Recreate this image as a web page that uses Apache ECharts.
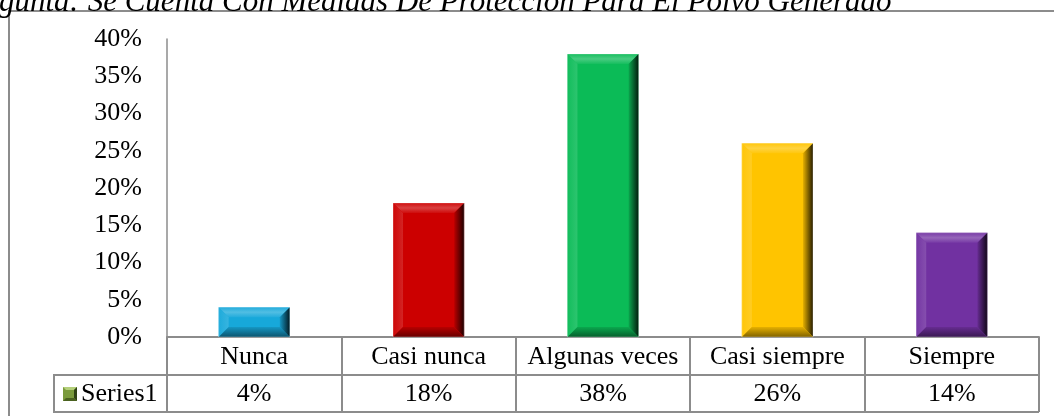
<!DOCTYPE html>
<html>
<head>
<meta charset="utf-8">
<script src="https://cdn.jsdelivr.net/npm/echarts@6/dist/echarts.min.js"></script>
<style>html,body{margin:0;padding:0;background:#fff;}#c{width:1054px;height:416px;}</style>
</head>
<body>
<div id="c"></div>
<script>
const titleText = "gunta: Se Cuenta Con Medidas De Protección Para El Polvo Generado";
const categories = ["Nunca", "Casi nunca", "Algunas veces", "Casi siempre", "Siempre"];
const values = [4, 18, 38, 26, 14];
const seriesName = "Series1";
const yTicks = { min: 0, max: 40, interval: 5 };
const palette = ["#17a8da", "#cc0000", "#0bbb57", "#ffc400", "#7131a1"];

function mix(hex, target, t) {
  const c = parseInt(hex.slice(1), 16);
  const r = (c >> 16) & 255, g = (c >> 8) & 255, b = c & 255;
  const tr = target === 'w' ? 255 : 0;
  const f = v => Math.round(v + (tr - v) * t);
  return 'rgb(' + f(r) + ',' + f(g) + ',' + f(b) + ')';
}

const FONT = '"Liberation Serif","Times New Roman",serif';
const LINE = '#8c8c8c';

const chart = echarts.init(document.getElementById('c'));

function renderBar(params, api) {
  const idx = api.value(0);
  const v = api.value(1);
  const top = api.coord([idx, v]);
  const bot = api.coord([idx, 0]);
  const w = api.size([1, 0])[0] * 0.408;
  const l = top[0] - w / 2, r = top[0] + w / 2, t = top[1], b = bot[1];
  const d = Math.min(10, (b - t) / 2);
  const col = palette[idx % palette.length];
  return {
    type: 'group',
    children: [
      { type: 'rect', shape: { x: l, y: t, width: r - l, height: b - t }, style: { fill: col } },
      { type: 'polygon', shape: { points: [[l, t], [r, t], [r - d, t + d], [l + d, t + d]] },
        style: { fill: new echarts.graphic.LinearGradient(0, 0, 0, 1, [
          { offset: 0, color: mix(col, 'w', 0.05) },
          { offset: 0.5, color: mix(col, 'w', 0.25) },
          { offset: 1, color: mix(col, 'w', 0.05) }]) } },
      { type: 'polygon', shape: { points: [[l, t], [l + d, t + d], [l + d, b - d], [l, b]] },
        style: { fill: new echarts.graphic.LinearGradient(0, 0, 1, 0, [
          { offset: 0, color: mix(col, 'w', 0.03) },
          { offset: 1, color: mix(col, 'w', 0.14) }]) } },
      { type: 'polygon', shape: { points: [[r, t], [r, b], [r - d, b - d], [r - d, t + d]] },
        style: { fill: new echarts.graphic.LinearGradient(0, 0, 1, 0, [
          { offset: 0, color: mix(col, 'b', 0.1) },
          { offset: 1, color: mix(col, 'b', 0.85) }]) } },
      { type: 'polygon', shape: { points: [[l, b], [r, b], [r - d, b - d], [l + d, b - d]] },
        style: { fill: new echarts.graphic.LinearGradient(0, 0, 0, 1, [
          { offset: 0, color: mix(col, 'b', 0.1) },
          { offset: 1, color: mix(col, 'b', 0.5) }]) } },
      { type: 'rect', shape: { x: l, y: t, width: r - l, height: b - t },
        style: { fill: 'none', stroke: 'rgba(255,255,255,0.3)', lineWidth: 1 } }
    ]
  };
}

const option = {
  animation: false,
  backgroundColor: '#fff',
  grid: { left: 167, right: 15, top: 39, bottom: 79, containLabel: false },
  xAxis: {
    type: 'category',
    data: categories,
    axisLine: { show: true, lineStyle: { color: LINE, width: 2 } },
    axisTick: { show: true, interval: 0, length: 75, lineStyle: { color: LINE, width: 2 } },
    axisLabel: {
      interval: 0,
      margin: 1,
      formatter: (v, i) => '{a|' + v + '}\n{a|' + values[i] + '%}',
      rich: { a: { fontFamily: FONT, fontSize: 26, color: '#000', lineHeight: 37.5 } }
    },
    splitLine: { show: false }
  },
  yAxis: {
    type: 'value',
    min: yTicks.min, max: yTicks.max, interval: yTicks.interval,
    axisLine: { show: true, lineStyle: { color: LINE, width: 1.5 } },
    axisTick: { show: false },
    splitLine: { show: false },
    axisLabel: { formatter: '{value}%', margin: 25, fontFamily: FONT, fontSize: 26, color: '#000' }
  },
  series: [{
    name: seriesName,
    type: 'custom',
    renderItem: renderBar,
    encode: { x: 0, y: 1 },
    data: values.map((v, i) => [i, v])
  }],
  graphic: [
    { type: 'rect', shape: { x: 9, y: 11, width: 1100, height: 500 }, style: { fill: 'none', stroke: LINE, lineWidth: 2 }, z: 1 },
    { type: 'text', x: -1, y: 18.5, style: { text: titleText, font: 'italic 31px ' + FONT, fill: '#000', textVerticalAlign: 'bottom' }, z: 10 },
    { type: 'line', shape: { x1: 54, y1: 375, x2: 1039, y2: 375 }, style: { stroke: LINE, lineWidth: 2 } },
    { type: 'line', shape: { x1: 54, y1: 412, x2: 1039, y2: 412 }, style: { stroke: LINE, lineWidth: 2 } },
    { type: 'line', shape: { x1: 54, y1: 374, x2: 54, y2: 413 }, style: { stroke: LINE, lineWidth: 2 } },
    { type: 'rect', shape: { x: 63, y: 387, width: 14, height: 14 }, style: { fill: '#7a9a3c' } },
    { type: 'polygon', shape: { points: [[63, 387], [77, 387], [74, 390], [66, 390]] }, style: { fill: '#b4cf7a' } },
    { type: 'polygon', shape: { points: [[77, 387], [77, 401], [74, 398], [74, 390]] }, style: { fill: '#2f4215' } },
    { type: 'polygon', shape: { points: [[63, 401], [77, 401], [74, 398], [66, 398]] }, style: { fill: '#4a6120' } },
    { type: 'text', x: 81, y: 394, style: { text: seriesName, font: '26px ' + FONT, fill: '#000', textVerticalAlign: 'middle' } }
  ]
};
chart.setOption(option);
</script>
</body>
</html>
